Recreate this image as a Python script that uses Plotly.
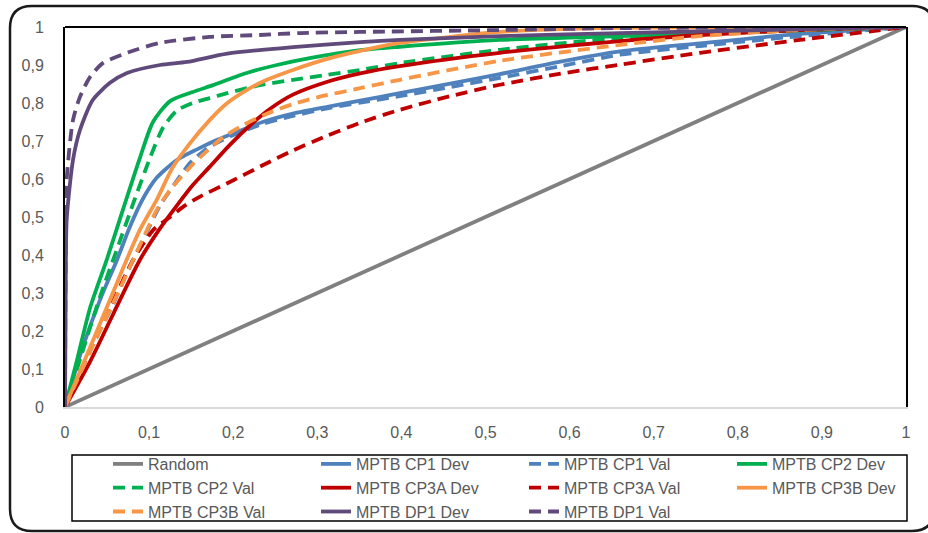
import plotly.graph_objects as go

# ---------------- data ----------------
random_x = [0, 1]
random_y = [0, 1]

cp1_dev_x = [0, 0.02, 0.0416, 0.0618, 0.0773, 0.0927, 0.109, 0.133, 0.157, 0.181, 0.2045, 0.235, 0.271, 0.312, 0.351, 0.398, 0.458, 0.517, 0.589, 0.66, 0.755, 0.874, 1]
cp1_dev_y = [0, 0.15, 0.282, 0.387, 0.475, 0.548, 0.603, 0.65, 0.678, 0.703, 0.724, 0.75, 0.772, 0.79, 0.806, 0.826, 0.851, 0.876, 0.909, 0.936, 0.957, 0.982, 1]

cp1_val_x = [0, 0.03, 0.057, 0.075, 0.095, 0.113, 0.137, 0.149, 0.17, 0.188, 0.2045, 0.235, 0.271, 0.312, 0.351, 0.398, 0.458, 0.517, 0.589, 0.66, 0.755, 0.874, 1]
cp1_val_y = [0, 0.15, 0.27, 0.36, 0.45, 0.53, 0.608, 0.643, 0.682, 0.703, 0.72, 0.745, 0.766, 0.786, 0.801, 0.818, 0.842, 0.866, 0.897, 0.927, 0.95, 0.976, 1]

cp2_dev_x = [0, 0.015, 0.0297, 0.05, 0.069, 0.089, 0.1046, 0.125, 0.152, 0.176, 0.193, 0.216, 0.252, 0.291, 0.351, 0.398, 0.517, 0.66, 1]
cp2_dev_y = [0, 0.13, 0.26, 0.39, 0.52, 0.655, 0.75, 0.805, 0.829, 0.847, 0.861, 0.879, 0.9, 0.918, 0.939, 0.948, 0.966, 0.976, 1]

cp2_val_x = [0, 0.02, 0.0416, 0.0618, 0.081, 0.101, 0.1165, 0.133, 0.152, 0.172, 0.193, 0.232, 0.271, 0.312, 0.351, 0.398, 0.517, 0.66, 0.815, 1]
cp2_val_y = [0, 0.14, 0.29, 0.415, 0.535, 0.655, 0.735, 0.78, 0.8, 0.813, 0.826, 0.847, 0.861, 0.874, 0.887, 0.905, 0.94, 0.971, 0.987, 1]

cp3a_dev_x = [0, 0.03, 0.0654, 0.089, 0.113, 0.133, 0.152, 0.172, 0.196, 0.2235, 0.244, 0.271, 0.312, 0.351, 0.398, 0.517, 0.66, 0.755, 0.874, 1]
cp3a_dev_y = [0, 0.12, 0.282, 0.387, 0.47, 0.53, 0.584, 0.632, 0.69, 0.748, 0.785, 0.822, 0.856, 0.878, 0.897, 0.932, 0.963, 0.979, 0.992, 1]

cp3a_val_x = [0, 0.03, 0.0618, 0.081, 0.105, 0.125, 0.14, 0.16, 0.196, 0.235, 0.271, 0.312, 0.351, 0.398, 0.458, 0.517, 0.597, 0.66, 0.755, 0.874, 1]
cp3a_val_y = [0, 0.15, 0.3, 0.387, 0.466, 0.5, 0.526, 0.553, 0.592, 0.636, 0.675, 0.714, 0.748, 0.782, 0.818, 0.848, 0.88, 0.901, 0.932, 0.966, 1]

cp3b_dev_x = [0, 0.02, 0.0535, 0.069, 0.089, 0.109, 0.128, 0.149, 0.172, 0.193, 0.216, 0.24, 0.271, 0.312, 0.351, 0.398, 0.458, 0.517, 0.636, 1]
cp3b_dev_y = [0, 0.105, 0.282, 0.365, 0.466, 0.545, 0.63, 0.695, 0.755, 0.8, 0.834, 0.861, 0.887, 0.916, 0.937, 0.958, 0.974, 0.987, 0.997, 1]

cp3b_val_x = [0, 0.035, 0.065, 0.09, 0.109, 0.125, 0.149, 0.169, 0.188, 0.212, 0.24, 0.271, 0.3, 0.351, 0.398, 0.517, 0.66, 0.755, 0.874, 1]
cp3b_val_y = [0, 0.17, 0.31, 0.43, 0.518, 0.571, 0.632, 0.674, 0.71, 0.742, 0.772, 0.797, 0.815, 0.839, 0.861, 0.911, 0.953, 0.976, 0.992, 1]

dp1_dev_x = [0, 0.0008, 0.002, 0.0095, 0.0178, 0.033, 0.0535, 0.0737, 0.113, 0.145, 0.193, 0.271, 0.351, 0.398, 0.517, 0.66, 1]
dp1_dev_y = [0, 0.3, 0.492, 0.65, 0.729, 0.808, 0.853, 0.879, 0.9, 0.908, 0.93, 0.947, 0.96, 0.966, 0.976, 0.984, 1]

dp1_val_x = [0, 0.0008, 0.002, 0.0095, 0.0178, 0.0297, 0.045, 0.0737, 0.113, 0.172, 0.232, 0.279, 0.351, 0.517, 0.66, 1]
dp1_val_y = [0, 0.4, 0.597, 0.755, 0.816, 0.868, 0.905, 0.932, 0.958, 0.974, 0.979, 0.984, 0.987, 0.992, 0.997, 1]

x_ticks = [0, 0.1, 0.2, 0.3, 0.4, 0.5, 0.6, 0.7, 0.8, 0.9, 1]
y_ticks = [0, 0.1, 0.2, 0.3, 0.4, 0.5, 0.6, 0.7, 0.8, 0.9, 1]

# ---------------- styling ----------------
GRAY = "#808080"
BLUE = "#4f81bd"
GREEN = "#00b050"
RED = "#c00000"
ORANGE = "#f79646"
PURPLE = "#604a7b"
DASH = "12px,7px"
LW = 3.8

series = [
    ("Random", random_x, random_y, GRAY, "solid"),
    ("MPTB CP1 Dev", cp1_dev_x, cp1_dev_y, BLUE, "solid"),
    ("MPTB CP1 Val", cp1_val_x, cp1_val_y, BLUE, DASH),
    ("MPTB CP2 Dev", cp2_dev_x, cp2_dev_y, GREEN, "solid"),
    ("MPTB CP2 Val", cp2_val_x, cp2_val_y, GREEN, DASH),
    ("MPTB CP3A Dev", cp3a_dev_x, cp3a_dev_y, RED, "solid"),
    ("MPTB CP3A Val", cp3a_val_x, cp3a_val_y, RED, DASH),
    ("MPTB CP3B Dev", cp3b_dev_x, cp3b_dev_y, ORANGE, "solid"),
    ("MPTB CP3B Val", cp3b_val_x, cp3b_val_y, ORANGE, DASH),
    ("MPTB DP1 Dev", dp1_dev_x, dp1_dev_y, PURPLE, "solid"),
    ("MPTB DP1 Val", dp1_val_x, dp1_val_y, PURPLE, DASH),
]

fig = go.Figure()
for name, xs, ys, color, dash in series:
    fig.add_trace(go.Scatter(
        x=xs, y=ys, mode="lines", name=name,
        line=dict(color=color, width=LW, dash=dash,
                  shape="spline" if name != "Random" else "linear", smoothing=0.7),
    ))

FONT = "Liberation Sans"
TXT = "#595959"

W, H = 928, 533
L, R, T, B = 65, 22, 27, 126
pw, ph = W - L - R, H - T - B

def px(xp):
    return (xp - L) / pw

def py(yp):
    return (H - B - yp) / ph

# rounded outer border in paper coordinates
x0, x1 = px(10), px(934)
y0, y1 = py(531), py(6)
rx, ry = 22 / pw, 22 / ph
border_path = (
    f"M {x0 + rx} {y1} L {x1 - rx} {y1} Q {x1} {y1} {x1} {y1 - ry} "
    f"L {x1} {y0 + ry} Q {x1} {y0} {x1 - rx} {y0} "
    f"L {x0 + rx} {y0} Q {x0} {y0} {x0} {y0 + ry} "
    f"L {x0} {y1 - ry} Q {x0} {y1} {x0 + rx} {y1} Z"
)

fig.update_layout(
    width=W, height=H,
    margin=dict(l=L, r=R, t=T, b=B, autoexpand=False),
    paper_bgcolor="white", plot_bgcolor="white",
    separators=", ",
    font=dict(family=FONT, size=16, color=TXT),
    xaxis=dict(range=[0, 1], tickvals=x_ticks, showgrid=False, zeroline=False,
               showline=True, linecolor="#d9d9d9", linewidth=2,
               ticks="", ticklabelstandoff=10,
               tickfont=dict(family=FONT, size=16, color=TXT)),
    yaxis=dict(range=[0, 1], tickvals=y_ticks, showgrid=False, zeroline=False,
               showline=True, linecolor="black", linewidth=2, mirror=True,
               ticks="", ticklabelstandoff=16,
               tickfont=dict(family=FONT, size=16, color=TXT)),
    showlegend=True,
    legend=dict(orientation="h", xref="container", yref="container",
                x=108 / W, y=1 - 447 / H, xanchor="left", yanchor="top",
                borderwidth=0, bgcolor="rgba(0,0,0,0)",
                entrywidth=163, entrywidthmode="pixels",
                font=dict(family=FONT, size=16, color=TXT),
                tracegroupgap=0, itemwidth=30),
    shapes=[
        dict(type="line", xref="paper", yref="paper", x0=0, x1=1, y0=1, y1=1,
             line=dict(color="black", width=2)),
        dict(type="path", xref="paper", yref="paper", path=border_path,
             line=dict(color="#1a1a1a", width=2.5)),
        dict(type="rect", xref="paper", yref="paper",
             x0=px(72), x1=px(907), y0=py(521), y1=py(455),
             line=dict(color="black", width=1.5), layer="below"),
    ],
)

fig.write_html("out.html")
